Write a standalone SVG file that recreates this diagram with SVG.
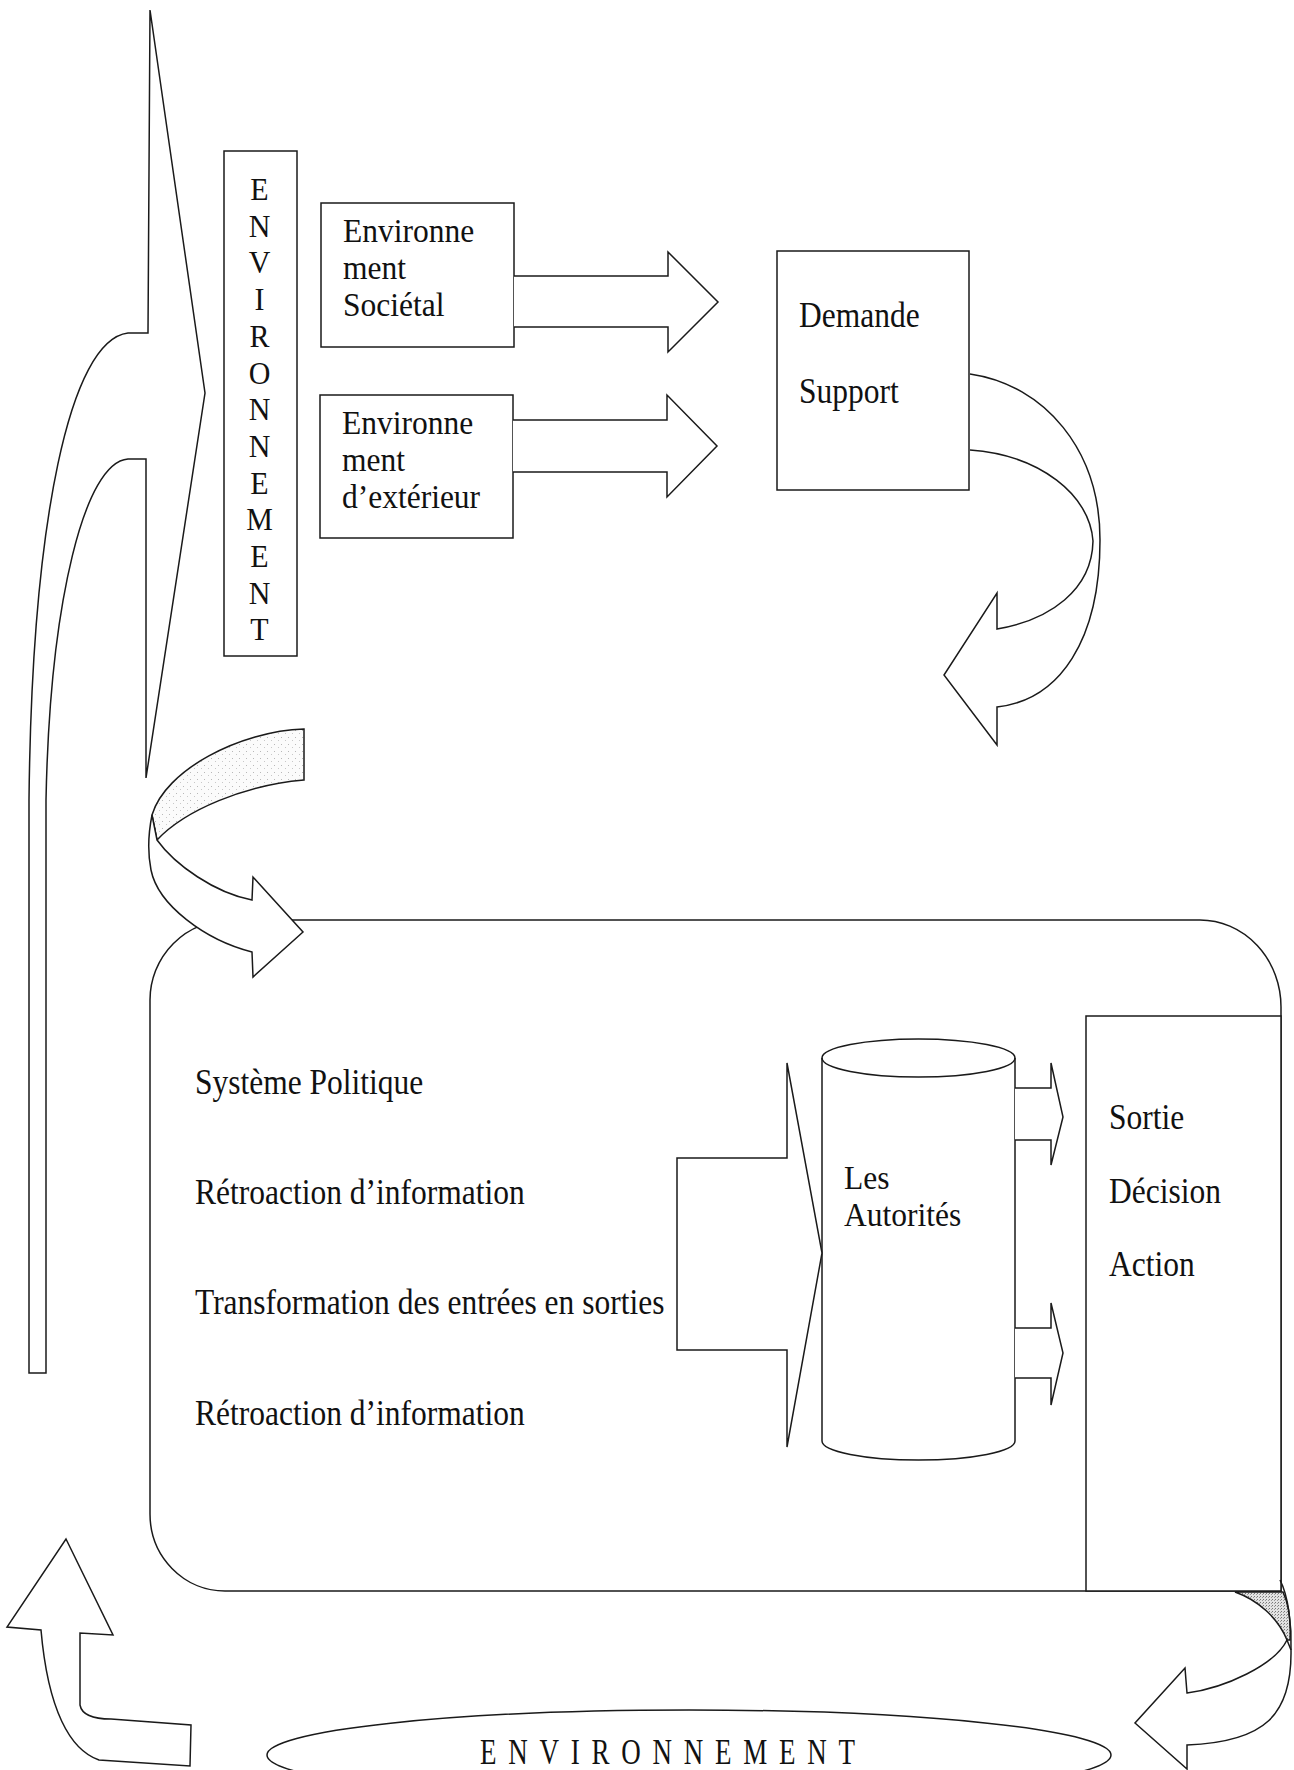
<svg xmlns="http://www.w3.org/2000/svg" width="1294" height="1770" viewBox="0 0 1294 1770">
<defs>
<pattern id="stip1" width="7" height="7" patternUnits="userSpaceOnUse">
<rect width="7" height="7" fill="#fbfbfb"/>
<rect x="1" y="2" width="1" height="1" fill="#b8b8b8"/>
<rect x="5" y="5" width="1" height="1" fill="#c8c8c8"/>
</pattern>
<pattern id="stip2" width="3" height="3" patternUnits="userSpaceOnUse">
<rect width="3" height="3" fill="#e2e2e2"/>
<rect x="0" y="0" width="1" height="1" fill="#777"/>
<rect x="2" y="1" width="1" height="1" fill="#999"/>
</pattern>
</defs>
<style>
.ln{fill:#fff;stroke:#1a1a1a;stroke-width:1.5;stroke-linejoin:miter}
.ol{fill:none;stroke:#1a1a1a;stroke-width:1.5}
.t{font-family:"Liberation Serif","Times New Roman",serif;font-size:31.5px;fill:#111}
.tv{font-family:"Liberation Serif","Times New Roman",serif;font-size:30px;fill:#111;text-anchor:middle}
.tb{font-family:"Liberation Serif","Times New Roman",serif;font-size:27px;fill:#111}
</style>
<rect width="1294" height="1770" fill="#fff"/>

<g id="systeme-politique">
<path class="ln" d="M150,1000 A80,80 0 0 1 230,920 H1200 A81,87 0 0 1 1281,1007 V1591 H225 A75,77 0 0 1 150,1514 Z"/>
<text class="t" transform="translate(195,1094) scale(1,1.15)">Système Politique</text>
<text class="t" transform="translate(195,1204) scale(1,1.15)">Rétroaction d’information</text>
<text class="t" transform="translate(195,1314) scale(1,1.15)">Transformation des entrées en sorties</text>
<text class="t" transform="translate(195,1425) scale(1,1.15)">Rétroaction d’information</text>
</g>

<g id="env-vertical">
<rect class="ln" x="224" y="151" width="73" height="505"/>
<text class="tv" transform="translate(259.5,200) scale(1,1.05)">E</text>
<text class="tv" transform="translate(259.5,236.7) scale(1,1.05)">N</text>
<text class="tv" transform="translate(259.5,273.4) scale(1,1.05)">V</text>
<text class="tv" transform="translate(259.5,310.1) scale(1,1.05)">I</text>
<text class="tv" transform="translate(259.5,346.8) scale(1,1.05)">R</text>
<text class="tv" transform="translate(259.5,383.5) scale(1,1.05)">O</text>
<text class="tv" transform="translate(259.5,420.2) scale(1,1.05)">N</text>
<text class="tv" transform="translate(259.5,456.9) scale(1,1.05)">N</text>
<text class="tv" transform="translate(259.5,493.6) scale(1,1.05)">E</text>
<text class="tv" transform="translate(259.5,530.3) scale(1,1.05)">M</text>
<text class="tv" transform="translate(259.5,567) scale(1,1.05)">E</text>
<text class="tv" transform="translate(259.5,603.7) scale(1,1.05)">N</text>
<text class="tv" transform="translate(259.5,640.4) scale(1,1.05)">T</text>
</g>

<g id="env-societal">
<rect class="ln" x="321" y="203" width="193" height="144"/>
<text class="t" transform="translate(343,242) scale(1,1.05)">Environne</text>
<text class="t" transform="translate(343,279) scale(1,1.05)">ment</text>
<text class="t" transform="translate(343,316) scale(1,1.05)">Sociétal</text>
</g>

<g id="env-exterieur">
<rect class="ln" x="320" y="395" width="193" height="143"/>
<text class="t" transform="translate(342,434) scale(1,1.05)">Environne</text>
<text class="t" transform="translate(342,471) scale(1,1.05)">ment</text>
<text class="t" transform="translate(342,508) scale(1,1.05)">d’extérieur</text>
</g>

<g id="demande-support">
<rect class="ln" x="777" y="251" width="192" height="239"/>
<text class="t" transform="translate(799,327) scale(1,1.15)">Demande</text>
<text class="t" transform="translate(799,403) scale(1,1.15)">Support</text>
</g>

<g id="autorites">
<path class="ln" d="M822,1058 A96.5,19 0 0 1 1015,1058 V1441 A96.5,19 0 0 1 822,1441 Z"/>
<path class="ol" d="M822,1058 A96.5,19 0 0 0 1015,1058"/>
<text class="t" transform="translate(844,1189) scale(1,1.05)">Les</text>
<text class="t" transform="translate(844,1226) scale(1,1.05)">Autorités</text>
</g>

<g id="sortie">
<rect class="ln" x="1086" y="1016" width="195" height="575"/>
<text class="t" transform="translate(1109,1129) scale(1,1.15)">Sortie</text>
<text class="t" transform="translate(1109,1203) scale(1,1.15)">Décision</text>
<text class="t" transform="translate(1109,1276) scale(1,1.15)">Action</text>
</g>

<g id="environnement-bottom">
<ellipse class="ln" cx="689" cy="1755" rx="422" ry="45"/>
<text class="tb" transform="translate(480,1764) scale(1,1.3)" textLength="375" lengthAdjust="spacing">ENVIRONNEMENT</text>
</g>

<g id="connectors">
<path class="ln" d="M150,10 L205,393 L146,778 L146,459 L128,459 C85,462 50,600 46,800 L46,1373 L29,1373 L29,800 C32,520 70,340 128,333 L148,333 Z"/>
<path class="ln" d="M514,276 H668 V252 L718,302 L668,352 V327 H514"/>
<path class="ln" d="M513,420 H667 V395 L717,446 L667,497 V472 H513"/>
<path class="ln" d="M970,374 C1045,385 1100,450 1100,540 C1100,640 1060,700 997,707 L997,745 L944,675 L997,593 L997,629 C1050,620 1092,590 1093,541 C1090,495 1040,455 970,450"/>
<path class="ln" style="fill:url(#stip1)" d="M304,729 C240,731 165,770 152,815 L157,840 C185,810 245,785 304,780 Z"/>
<path class="ln" d="M152,815 C148,835 148,855 151,870 C158,905 205,940 252,952 L253,977 L303,932 L253,877 L252,900 C215,893 175,865 157,840 Z"/>
<path class="ln" d="M677,1158 H787 V1063 L822,1253 L787,1447 V1350 H677 Z"/>
<path class="ln" d="M1015,1088 H1051 V1063 L1063,1117 L1051,1165 V1140 H1015"/>
<path class="ln" d="M1015,1328 H1051 V1303 L1063,1353 L1051,1405 V1378 H1015"/>
<path class="ln" style="fill:url(#stip2)" d="M1235,1592 H1283 C1289,1605 1291,1622 1290,1640 L1287,1640 C1278,1618 1258,1600 1235,1592 Z"/>
<path class="ln" d="M1287,1640 C1275,1665 1225,1688 1187,1693 L1185,1668 L1135,1723 L1187,1769 L1187,1745 C1265,1742 1292,1715 1291,1650 Z"/>
<path class="ol" d="M1280,1580 C1288,1595 1292,1625 1291,1650"/>
<path class="ln" d="M66,1539 L113,1635 L80,1633 L80,1705 C82,1716 95,1719 111,1719 L191,1725 L190,1766 L99,1760 C70,1750 48,1710 41,1630 L7,1627 Z"/>
</g>
</svg>
